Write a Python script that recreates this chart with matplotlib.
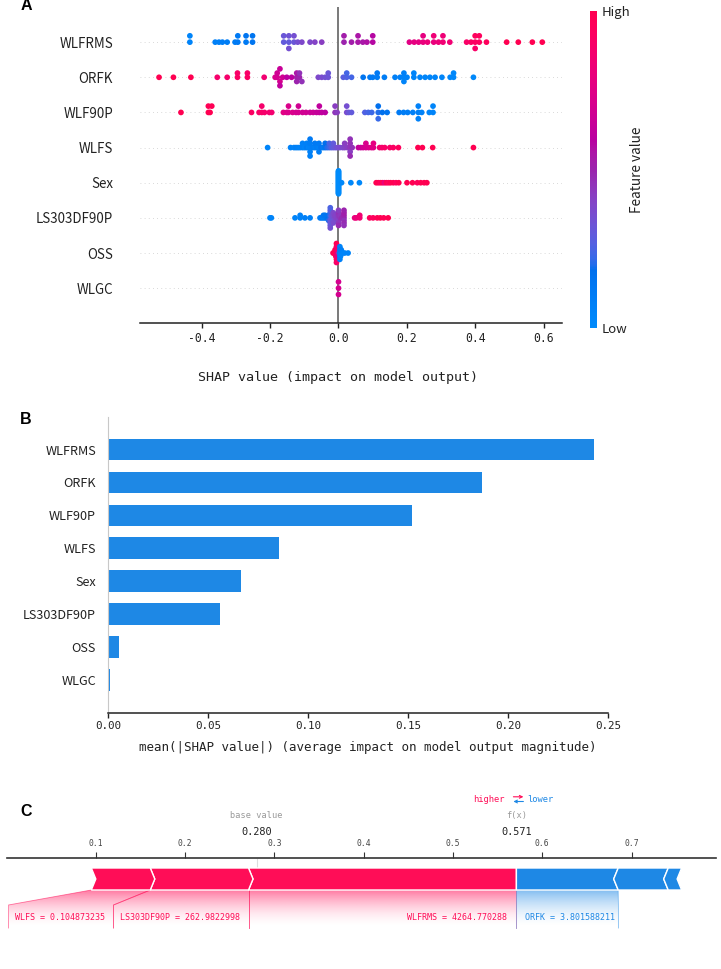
import numpy as np
import matplotlib
matplotlib.use("Agg")
import matplotlib.pyplot as plt
from matplotlib import font_manager as fm
from matplotlib.colors import LinearSegmentedColormap, Normalize, to_rgb
from matplotlib.patches import Polygon
import matplotlib.cm as cm

# ---------------------------------------------------------------- DATA
features = ['WLFRMS', 'ORFK', 'WLF90P', 'WLFS', 'Sex', 'LS303DF90P', 'OSS', 'WLGC']

shap_WLFRMS = [-0.434, -0.434, -0.360, -0.349, -0.339, -0.325, -0.302, -0.294, -0.294, -0.270, -0.270, -0.251, -0.251,
               -0.160, -0.160, -0.145, -0.145, -0.145, -0.130, -0.130, -0.119, -0.107, -0.083, -0.069, -0.049,
               0.016, 0.016, 0.038, 0.057, 0.057, 0.071, 0.083, 0.100, 0.100,
               0.207, 0.221, 0.234, 0.247, 0.247, 0.260, 0.278, 0.278, 0.292, 0.305, 0.305, 0.325,
               0.374, 0.387, 0.399, 0.399, 0.399, 0.411, 0.411, 0.432,
               0.491, 0.525, 0.566, 0.595]
feat_WLFRMS = [0.05, 0.05, 0.08, 0.08, 0.10, 0.10, 0.10, 0.12, 0.12, 0.12, 0.15, 0.15, 0.15,
               0.30, 0.32, 0.30, 0.33, 0.35, 0.32, 0.35, 0.35, 0.38, 0.38, 0.40, 0.42,
               0.50, 0.52, 0.52, 0.54, 0.55, 0.54, 0.56, 0.58, 0.58,
               0.76, 0.78, 0.78, 0.80, 0.78, 0.82, 0.80, 0.83, 0.82, 0.84, 0.83, 0.84,
               0.90, 0.92, 0.92, 0.95, 0.90, 0.93, 0.95, 0.95,
               1.0, 1.0, 1.0, 1.0]

shap_ORFK = [-0.524, -0.482, -0.431, -0.354, -0.325, -0.295, -0.295, -0.266, -0.266, -0.217,
             -0.185, -0.179, -0.179, -0.171, -0.171, -0.171, -0.163, -0.151, -0.137, -0.122, -0.122, -0.122, -0.114, -0.114, -0.107,
             -0.059, -0.049, -0.039, -0.030, -0.030,
             0.014, 0.024, 0.024, 0.038,
             0.072, 0.092, 0.100, 0.113, 0.113, 0.134,
             0.165, 0.180, 0.191, 0.191, 0.191, 0.200,
             0.220, 0.220, 0.238, 0.253, 0.267, 0.282, 0.302, 0.326, 0.336, 0.336,
             0.394]
feat_ORFK = [1.0, 1.0, 1.0, 0.88, 0.88, 0.92, 0.90, 0.92, 0.90, 0.85,
             0.72, 0.70, 0.68, 0.70, 0.65, 0.62, 0.68, 0.60, 0.60, 0.52, 0.55, 0.50, 0.50, 0.46, 0.46,
             0.38, 0.36, 0.34, 0.33, 0.32,
             0.28, 0.26, 0.24, 0.24,
             0.15, 0.12, 0.12, 0.10, 0.12, 0.10,
             0.08, 0.08, 0.06, 0.08, 0.05, 0.06,
             0.05, 0.05, 0.05, 0.04, 0.04, 0.05, 0.04, 0.03, 0.03, 0.03,
             0.02]

shap_WLF90P = [-0.460, -0.380, -0.380, -0.375, -0.370,
               -0.254, -0.232, -0.224, -0.224, -0.216, -0.202, -0.195,
               -0.161, -0.151, -0.146, -0.146, -0.134, -0.124, -0.117, -0.117, -0.105, -0.095, -0.083, -0.074, -0.064, -0.056, -0.056, -0.049, -0.039,
               -0.010, -0.010, -0.004, 0.024, 0.024,
               0.030, 0.038,
               0.077, 0.087, 0.097, 0.116, 0.116, 0.116, 0.128, 0.142,
               0.177, 0.190, 0.202, 0.217, 0.233, 0.233, 0.233, 0.243,
               0.265, 0.276, 0.276]
feat_WLF90P = [1.0, 1.0, 0.98, 1.0, 0.98,
               0.92, 0.90, 0.90, 0.88, 0.88, 0.86, 0.86,
               0.76, 0.74, 0.73, 0.72, 0.72, 0.70, 0.70, 0.68, 0.68, 0.68, 0.66, 0.66, 0.64, 0.64, 0.62, 0.62, 0.60,
               0.45, 0.42, 0.42, 0.36, 0.35,
               0.32, 0.30,
               0.26, 0.24, 0.23, 0.20, 0.18, 0.22, 0.18, 0.16,
               0.12, 0.10, 0.10, 0.08, 0.08, 0.07, 0.07, 0.06,
               0.05, 0.05, 0.04]

shap_WLFS = [-0.207,
             -0.140, -0.130, -0.124, -0.118, -0.112, -0.105, -0.105, -0.099, -0.093, -0.093, -0.087, -0.083, -0.083, -0.083,
             -0.083, -0.083, -0.075, -0.069, -0.069, -0.063, -0.057, -0.057, -0.057, -0.051, -0.045, -0.039, -0.039, -0.033,
             -0.027, -0.027, -0.021, -0.015, -0.015, -0.009, -0.003,
             0.004, 0.012, 0.018, 0.018, 0.026, 0.034, 0.034, 0.034, 0.034, 0.034, 0.040,
             0.058, 0.065, 0.072, 0.080, 0.080, 0.088, 0.096, 0.102, 0.102,
             0.120, 0.127, 0.135, 0.150, 0.160, 0.175,
             0.232, 0.245, 0.275, 0.394]
feat_WLFS = [0.05,
             0.06, 0.05, 0.08, 0.06, 0.05, 0.08, 0.07, 0.05, 0.10, 0.08, 0.05, 0.06, 0.10, 0.08,
             0.12, 0.07, 0.10, 0.08, 0.12, 0.10, 0.08, 0.12, 0.10, 0.14, 0.12, 0.15, 0.18, 0.20,
             0.22, 0.25, 0.28, 0.30, 0.30, 0.32, 0.35,
             0.36, 0.38, 0.40, 0.42, 0.42, 0.45, 0.46, 0.42, 0.46, 0.48, 0.46,
             0.62, 0.65, 0.68, 0.70, 0.72, 0.72, 0.75, 0.75, 0.78,
             0.85, 0.88, 0.90, 0.90, 0.92, 0.95,
             1.0, 1.0, 1.0, 1.0]

shap_Sex = [0.0, 0.0, 0.0, 0.0, 0.0, 0.0, 0.0, 0.0, 0.0, 0.0,
            0.0, 0.0, 0.0, 0.0, 0.0, 0.0, 0.0, 0.0, 0.0, 0.0,
            0.0, 0.0, 0.0, 0.0, 0.0, 0.0, 0.0, 0.0, 0.0, 0.0,
            0.009, 0.036, 0.061,
            0.110, 0.116, 0.122, 0.128, 0.134, 0.140, 0.146, 0.152, 0.160, 0.168, 0.176,
            0.200, 0.216, 0.230, 0.240, 0.250, 0.258]
feat_Sex = [0.0, 0.0, 0.0, 0.0, 0.0, 0.0, 0.0, 0.0, 0.0, 0.0,
            0.0, 0.0, 0.0, 0.0, 0.0, 0.0, 0.0, 0.0, 0.0, 0.0,
            0.0, 0.0, 0.0, 0.0, 0.0, 0.0, 0.0, 0.0, 0.0, 0.0,
            0.02, 0.02, 0.02,
            1.0, 1.0, 0.95, 1.0, 0.80, 1.0, 0.95, 1.0, 1.0, 0.95, 1.0,
            1.0, 1.0, 0.95, 1.0, 1.0, 1.0]

shap_LS303DF90P = [-0.200, -0.196,
                   -0.127, -0.112, -0.112, -0.098, -0.083,
                   -0.054, -0.049, -0.044, -0.044, -0.039, -0.039, -0.034, -0.029, -0.029, -0.029,
                   -0.024, -0.024, -0.024, -0.024, -0.024, -0.024, -0.024, -0.024, -0.024,
                   -0.019, -0.019, -0.015, -0.015, -0.015, -0.015, -0.015, -0.010, -0.010, -0.005,
                   0.000, 0.000, 0.000, 0.000, 0.000, 0.000, 0.000, 0.005, 0.005, 0.010,
                   0.016, 0.016, 0.016, 0.016, 0.016, 0.016, 0.016,
                   0.047, 0.052, 0.062, 0.062,
                   0.091, 0.101, 0.113, 0.122, 0.132, 0.145]
feat_LS303DF90P = [0.05, 0.05,
                   0.05, 0.06, 0.06, 0.08, 0.08,
                   0.10, 0.12, 0.10, 0.14, 0.12, 0.15, 0.15, 0.18, 0.15, 0.20,
                   0.20, 0.25, 0.30, 0.22, 0.32, 0.28, 0.30, 0.25, 0.34,
                   0.30, 0.33, 0.35, 0.36, 0.33, 0.38, 0.36, 0.38, 0.40, 0.40,
                   0.42, 0.44, 0.40, 0.46, 0.44, 0.42, 0.48, 0.46, 0.44, 0.48,
                   0.48, 0.50, 0.45, 0.52, 0.48, 0.50, 0.46,
                   0.80, 0.82, 0.85, 0.85,
                   0.95, 0.95, 0.98, 1.0, 0.98, 1.0]

shap_OSS = [-0.016, -0.013, -0.010, -0.010, -0.008, -0.008, -0.008, -0.006, -0.006, -0.006, -0.006, -0.006, -0.006, -0.006,
            -0.004, -0.004, -0.004, -0.004, -0.002, -0.002, -0.002,
            0.002, 0.004, 0.004, 0.004, 0.004, 0.004, 0.006, 0.006, 0.006, 0.008, 0.008, 0.012, 0.018, 0.028]
feat_OSS = [1.0, 1.0, 0.95, 1.0, 0.95, 1.0, 0.90, 1.0, 0.95, 1.0, 0.90, 0.95, 1.0, 0.90,
            0.90, 0.95, 0.85, 0.90, 0.80, 0.85, 0.75,
            0.30, 0.10, 0.05, 0.10, 0.05, 0.08, 0.05, 0.10, 0.05, 0.05, 0.08, 0.05, 0.05, 0.05]

shap_WLGC = [0.0, 0.0, 0.0]
feat_WLGC = [0.70, 0.70, 0.70]

mean_abs_shap = [0.243, 0.187, 0.152, 0.0855, 0.0665, 0.0560, 0.0053, 0.0008]

base_value = 0.280
force_pos_names = ['WLFRMS', 'LS303DF90P', 'WLFS']
force_pos_values = [0.300, 0.110, 0.066]
force_pos_feature_values = ['4264.770288', '262.9822998', '0.104873235']
force_neg_names = ['ORFK', '', '']
force_neg_values = [-0.114, -0.056, -0.015]
force_neg_feature_values = ['3.801588211', '', '']

beeswarm_shap = [shap_WLFRMS, shap_ORFK, shap_WLF90P, shap_WLFS, shap_Sex, shap_LS303DF90P, shap_OSS, shap_WLGC]
beeswarm_feat = [feat_WLFRMS, feat_ORFK, feat_WLF90P, feat_WLFS, feat_Sex, feat_LS303DF90P, feat_OSS, feat_WLGC]

# ---------------------------------------------------------------- STYLE
plt.rcParams['axes.unicode_minus'] = False
names = {f.name for f in fm.fontManager.ttflist}
if 'Liberation Sans Narrow' in names:
    LBL = 'Liberation Sans Narrow'
    LBL_A, LBL_B = 10.6, 10.0
else:
    LBL = 'Noto Sans CJK SC'
    LBL_A, LBL_B = 9.6, 9.1
MONO = 'DejaVu Sans Mono'
SANS = 'Noto Sans CJK SC'
TXT = '#222222'
RED = '#ff0d57'
BLUE = '#1e88e5'


def lch_to_rgb(l, c, h):
    a = c * np.cos(h)
    b = c * np.sin(h)
    fy = (l + 16.0) / 116.0
    fx = fy + a / 500.0
    fz = fy - b / 200.0

    def finv(t):
        return np.where(t > 6 / 29, t ** 3, 3 * (6 / 29) ** 2 * (t - 4 / 29))
    X = 0.95047 * finv(fx)
    Y = finv(fy)
    Z = 1.08883 * finv(fz)
    M = np.array([[3.2404542, -1.5371385, -0.4985314],
                  [-0.9692660, 1.8760108, 0.0415560],
                  [0.0556434, -0.2040259, 1.0572252]])
    lin = np.clip(M @ np.array([X, Y, Z]), 0, None)
    rgb = np.where(lin <= 0.0031308, 12.92 * lin, 1.055 * lin ** (1 / 2.4) - 0.055)
    return np.clip(rgb, 0, 1)


blue_lch = [54., 70., 4.6588]
red_lch = [54., 90., 0.35470565 + 2 * np.pi]
l_mid = 40.
nsteps = 100
l_vals = list(np.linspace(blue_lch[0], l_mid, nsteps // 2)) + list(np.linspace(l_mid, red_lch[0], nsteps // 2))
c_vals = np.linspace(blue_lch[1], red_lch[1], nsteps)
h_vals = np.linspace(blue_lch[2], red_lch[2], nsteps)
cols = [lch_to_rgb(l, c, h) for l, c, h in zip(l_vals, c_vals, h_vals)]
red_blue = LinearSegmentedColormap.from_list('red_blue', list(zip(np.linspace(0, 1, nsteps), cols)))

W, H = 721, 969
fig = plt.figure(figsize=(W / 100, H / 100), dpi=100)


def fax(x0, y0, x1, y1):
    return fig.add_axes([x0 / W, 1 - y1 / H, (x1 - x0) / W, (y1 - y0) / H])


def swarm(vals, nbins=100, row_height=0.4):
    vals = np.asarray(vals, float)
    n = len(vals)
    quant = np.round(nbins * (vals - vals.min()) / (vals.max() - vals.min() + 1e-8))
    inds = np.argsort(quant, kind='stable')
    layer, last = 0, -1
    ys = np.zeros(n)
    for ind in inds:
        if quant[ind] != last:
            layer = 0
        ys[ind] = np.ceil(layer / 2) * ((layer % 2) * 2 - 1)
        layer += 1
        last = quant[ind]
    ys *= 0.9 * (row_height / np.max(ys + 1))
    return ys


# ---------------------------------------------------------------- PANEL A
axA = fax(140, 7, 562, 323.3)
nF = len(features)
for i, (sv, fv) in enumerate(zip(beeswarm_shap, beeswarm_feat)):
    pos = nF - 1 - i
    axA.axhline(pos, color='#cccccc', lw=0.6, dashes=(1, 4), zorder=-1)
    ys = swarm(sv)
    axA.scatter(sv, pos + ys, c=fv, cmap=red_blue, vmin=0, vmax=1, s=17, linewidth=0, zorder=3)
axA.axvline(0, color='#555555', lw=1.1, zorder=1)
axA.set_xlim(-0.5796, 0.6526)
axA.set_ylim(-1, nF)
axA.set_yticks(range(nF))
axA.set_yticklabels(features[::-1], fontfamily=LBL, fontsize=LBL_A, color=TXT)
axA.tick_params(axis='y', length=0, pad=19.5)
axA.set_xticks([-0.4, -0.2, 0.0, 0.2, 0.4, 0.6])
axA.set_xticklabels(['-0.4', '-0.2', '0.0', '0.2', '0.4', '0.6'], fontfamily=MONO, fontsize=8.3, color=TXT)
axA.tick_params(axis='x', length=3.6, width=1, color='#222222', pad=2.5)
for s in ['top', 'right', 'left']:
    axA.spines[s].set_visible(False)
axA.spines['bottom'].set_color('#222222')
axA.spines['bottom'].set_linewidth(1.1)
axA.set_xlabel('SHAP value (impact on model output)', fontfamily=MONO, fontsize=9.6, color=TXT)
axA.xaxis.set_label_coords((338 - 140) / 422, (323.3 - 377.5) / 316.3)
axA.xaxis.label.set_va('center')

cax = fax(589.5, 11, 596.5, 328)
cb = fig.colorbar(cm.ScalarMappable(norm=Normalize(0, 1), cmap=red_blue), cax=cax, ticks=[0, 1])
cb.set_ticklabels(['Low', 'High'])
cb.outline.set_visible(False)
cax.tick_params(length=0, pad=3.5)
for t in cax.get_yticklabels():
    t.set_fontfamily(SANS)
    t.set_fontsize(9.5)
    t.set_color(TXT)
cb.set_label('Feature value', fontfamily=SANS, fontsize=9.8, color=TXT, labelpad=0)

# ---------------------------------------------------------------- PANEL B
axB = fax(108, 416.7, 608, 712.7)
ypos = np.arange(nF)[::-1]
axB.barh(ypos, mean_abs_shap, height=0.66, color=BLUE, zorder=2)
axB.set_ylim(-1, nF)
axB.set_xlim(0, 0.25)
axB.set_yticks(ypos)
axB.set_yticklabels(features, fontfamily=LBL, fontsize=LBL_B, color=TXT)
axB.tick_params(axis='y', length=0, pad=8.6)
axB.set_xticks([0.0, 0.05, 0.10, 0.15, 0.20, 0.25])
axB.set_xticklabels(['0.00', '0.05', '0.10', '0.15', '0.20', '0.25'], fontfamily=MONO, fontsize=7.8, color=TXT)
axB.tick_params(axis='x', length=3.6, width=1, color='#222222', pad=2.5)
axB.spines['top'].set_visible(False)
axB.spines['right'].set_visible(False)
axB.spines['left'].set_color('#c8c8c8')
axB.spines['bottom'].set_color('#222222')
axB.spines['bottom'].set_linewidth(1.1)
axB.set_xlabel('mean(|SHAP value|) (average impact on model output magnitude)', fontfamily=MONO, fontsize=9.0, color=TXT)
axB.xaxis.set_label_coords((368 - 108) / 500, (712.7 - 747.7) / 296)
axB.xaxis.label.set_va('center')

# ---------------------------------------------------------------- PANEL C
PX = 893.0
axC = fax(6.5, 770, 715.5, 940)
xmaxC = (715.5 - 6.5) / PX
axC.set_xlim(0, xmaxC)
axC.set_ylim(940, 770)
axC.set_autoscale_on(False)
axC.patch.set_visible(False)
for s in ['left', 'right', 'bottom']:
    axC.spines[s].set_visible(False)
axC.spines['top'].set_position(('data', 857.7))
axC.spines['top'].set_color('#333333')
axC.spines['top'].set_linewidth(1.2)
axC.xaxis.tick_top()
axC.set_xticks([0.1, 0.2, 0.3, 0.4, 0.5, 0.6, 0.7])
axC.set_xticklabels(['0.1', '0.2', '0.3', '0.4', '0.5', '0.6', '0.7'], fontfamily=MONO, fontsize=5.8, color='#444444')
axC.tick_params(axis='x', direction='out', length=4.3, width=0.8, color='#333333', pad=2.5)
axC.set_yticks([])

fx_val = base_value + sum(force_pos_values) + sum(force_neg_values)
tip = 4.5 / PX
top, bot, mid = 868.0, 890.0, 879.0
box_top, box_bot, lab_y = 905.0, 928.0, 918.0
pad = 9.0 / PX

renderer = fig.canvas.get_renderer()


def text_span(t):
    inv = axC.transData.inverted()
    bb = t.get_window_extent(renderer=renderer)
    return inv.transform((bb.x0, bb.y0))[0], inv.transform((bb.x1, bb.y0))[0]


def gradient_link(pts, xa, xb, color):
    poly = Polygon(pts, closed=True, facecolor='none', edgecolor='none', transform=axC.transData)
    axC.add_patch(poly)
    g = np.zeros((80, 1, 4))
    g[..., :3] = to_rgb(color)
    g[:, 0, 3] = 0.55 * (1 - np.linspace(0, 1, 80)) ** 1.8
    im = axC.imshow(g, extent=(xa, xb, box_bot, bot), origin='upper', aspect='auto',
                    interpolation='bilinear', zorder=1)
    im.set_clip_path(poly)
    axC.set_xlim(0, xmaxC)
    axC.set_ylim(940, 770)


# positive (red) features: from f(x) leftwards
right = fx_val
prev_box_left = fx_val
for k, (nm, val, fv) in enumerate(zip(force_pos_names, force_pos_values, force_pos_feature_values)):
    left = right - val
    pts = [(left, top), (right, top)]
    if k > 0:
        pts.append((right + tip, mid))
    pts += [(right, bot), (left, bot), (left + tip, mid)]
    axC.add_patch(Polygon(pts, closed=True, facecolor=RED, edgecolor='white', lw=1.0, zorder=3))
    if nm:
        b_right = min(right, prev_box_left)
        t = axC.text(b_right - pad, lab_y, f'{nm} = {fv}', ha='right', va='center',
                     fontfamily=MONO, fontsize=6.0, color=RED, zorder=4)
        tx0, tx1 = text_span(t)
        b_left = min(left, tx0 - 6.0 / PX)
        link = [(left, bot), (right, bot), (b_right, box_top), (b_right, box_bot), (b_left, box_bot), (b_left, box_top)]
        gradient_link(link, min(left, b_left), max(right, b_right), RED)
        axC.plot([left, b_left, b_left], [bot, box_top, box_bot], color=RED, lw=0.6, alpha=0.55, zorder=2)
        axC.plot([right, b_right, b_right], [bot, box_top, box_bot], color=RED, lw=0.6, alpha=0.45, zorder=2)
        prev_box_left = b_left
    right = left

# negative (blue) features: from f(x) rightwards
left = fx_val
prev_box_right = fx_val
for k, (nm, val, fv) in enumerate(zip(force_neg_names, force_neg_values, force_neg_feature_values)):
    right = left - val
    pts = [(left, top), (right, top), (right - tip, mid), (right, bot), (left, bot)]
    if k > 0:
        pts.append((left - tip, mid))
    axC.add_patch(Polygon(pts, closed=True, facecolor=BLUE, edgecolor='white', lw=1.0, zorder=3))
    if nm:
        b_left = max(left, prev_box_right)
        t = axC.text(b_left + pad, lab_y, f'{nm} = {fv}', ha='left', va='center',
                     fontfamily=MONO, fontsize=6.0, color=BLUE, zorder=4)
        tx0, tx1 = text_span(t)
        b_right = max(right, tx1 + 3.0 / PX)
        link = [(left, bot), (right, bot), (b_right, box_top), (b_right, box_bot), (b_left, box_bot), (b_left, box_top)]
        gradient_link(link, min(left, b_left), max(right, b_right), BLUE)
        axC.plot([left, b_left, b_left], [bot, box_top, box_bot], color=BLUE, lw=0.6, alpha=0.45, zorder=2)
        axC.plot([right, b_right, b_right], [bot, box_top, box_bot], color=BLUE, lw=0.6, alpha=0.55, zorder=2)
        prev_box_right = b_right
    left = right

# base value and output value annotations
axC.plot([base_value, base_value], [858.5, top], color='#dddddd', lw=0.8, zorder=0)
axC.text(base_value, 815.7, 'base value', ha='center', va='center', fontfamily=MONO, fontsize=6.2, color='#999999')
axC.text(base_value, 831.7, f'{base_value:.3f}', ha='center', va='center', fontfamily=MONO, fontsize=7.4, color='#222222')
axC.text(fx_val, 815.7, 'f(x)', ha='center', va='center', fontfamily=MONO, fontsize=6.2, color='#999999')
axC.text(fx_val, 831.7, f'{fx_val:.3f}', ha='center', va='center', fontfamily=MONO, fontsize=7.4, color='#222222')

# higher / lower legend
axC.text(fx_val - 11.5 / PX, 799, 'higher', ha='right', va='center', fontfamily=MONO, fontsize=6.3, color=RED)
axC.text(fx_val + 10.5 / PX, 799, 'lower', ha='left', va='center', fontfamily=MONO, fontsize=6.3, color=BLUE)
axC.annotate('', xy=(fx_val + 7 / PX, 796.8), xytext=(fx_val - 3 / PX, 796.8),
             arrowprops=dict(arrowstyle='->', color=RED, lw=0.8, shrinkA=0, shrinkB=0, mutation_scale=5))
axC.annotate('', xy=(fx_val - 3 / PX, 801.5), xytext=(fx_val + 7 / PX, 801.5),
             arrowprops=dict(arrowstyle='->', color=BLUE, lw=0.8, shrinkA=0, shrinkB=0, mutation_scale=5))

axC.set_xlim(0, xmaxC)
axC.set_ylim(940, 770)

# ---------------------------------------------------------------- PANEL LETTERS
for letter, y in [('A', 6), ('B', 419.5), ('C', 812)]:
    fig.text(26 / W, 1 - y / H, letter, ha='center', va='center', fontfamily='Liberation Sans',
             fontweight='bold', fontsize=11.5, color='black')

fig.savefig('out.png', dpi=100)
